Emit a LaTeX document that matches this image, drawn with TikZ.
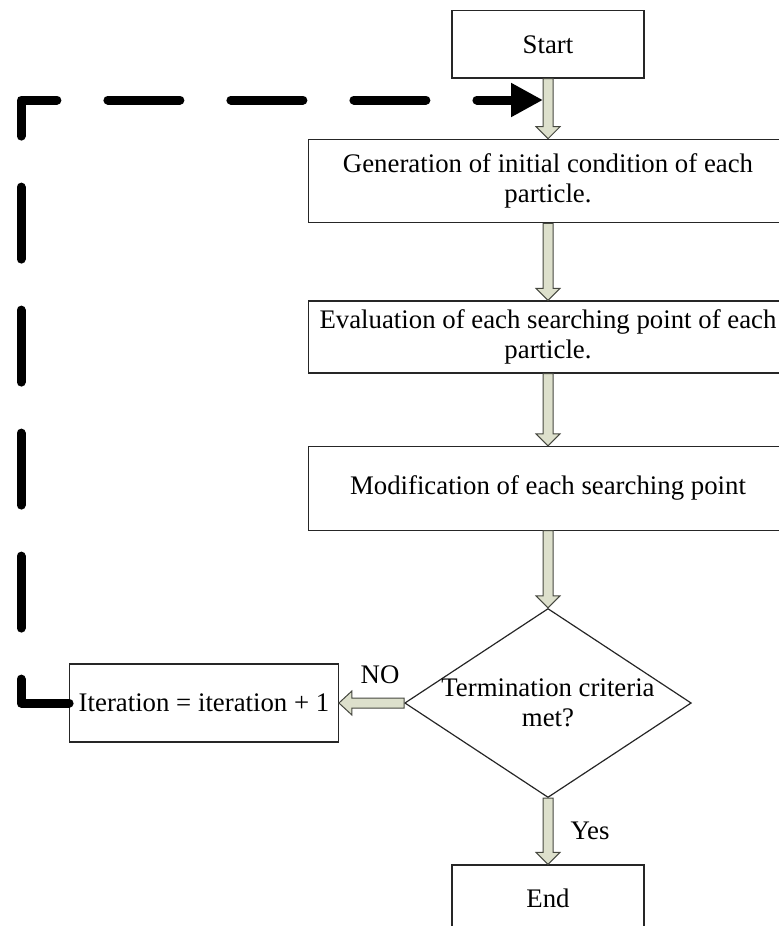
\documentclass[tikz,border=0pt]{standalone}
\usepackage{fontspec}
\setmainfont{Liberation Serif}
\usepackage{tikz}
\usetikzlibrary{calc,shapes.geometric,arrows.meta}
\definecolor{arrowfill}{RGB}{221,224,204}
\definecolor{arrowline}{RGB}{70,72,64}
\tikzset{
  stepbox/.style={draw=black!85,line width=0.6pt,rectangle,inner sep=0pt,align=center},
  decision/.style={draw=black!85,line width=0.6pt,diamond,inner sep=0pt},
  blockarrow/.style={draw=arrowline,line width=0.5pt,fill=arrowfill,line join=miter},
  loopline/.style={line width=4.5pt,line cap=round,line join=round,
    dash pattern=on 36pt off 25.5pt,-{Triangle[length=16pt,width=16pt]}}
}
\newcommand{\downblock}[2]{\draw[blockarrow] ($(#1)+(-5,0)$) -- ($(#2)+(-5,-12)$) -- ($(#2)+(-12,-12)$) -- (#2) -- ($(#2)+(12,-12)$) -- ($(#2)+(5,-12)$) -- ($(#1)+(5,0)$) -- cycle;}
\newcommand{\leftblock}[2]{\draw[blockarrow] ($(#1)+(0,-5)$) -- ($(#2)+(13,-5)$) -- ($(#2)+(13,-12)$) -- (#2) -- ($(#2)+(13,12)$) -- ($(#2)+(13,5)$) -- ($(#1)+(0,5)$) -- cycle;}

\begin{document}
\begin{tikzpicture}[x=0.5pt,y=-0.5pt,font=\fontsize{13.4}{14.8}\selectfont]
\pgfmathsetmacro{\cx}{548}
\useasboundingbox (0,0) rectangle (779,926);
\clip (0,0) rectangle (779,926);
\node[stepbox,minimum width=96pt,minimum height=33.7pt] (start) at (\cx,44.3) {Start};
\node[stepbox,minimum width=239.5pt,minimum height=41.7pt] (gen) at (\cx,181) {Generation of initial condition of each\\particle.};
\node[stepbox,minimum width=239.5pt,minimum height=36pt] (eval) at (\cx,337) {Evaluation of each searching point of each\\particle.};
\node[stepbox,minimum width=239.5pt,minimum height=41.8pt] (mod) at (\cx,488.3) {Modification of each searching point};
\node[decision,minimum width=143.3pt,minimum height=94.5pt] (term) at (\cx,703) {};
\node[align=center,inner sep=0pt] (termtext) at (term.center) {Termination criteria\\met?};
\node[stepbox,minimum width=134.3pt,minimum height=39pt] (iter) at (204,703) {Iteration = iteration + 1};
\node[stepbox,minimum width=96pt,minimum height=33.7pt] (end) at (\cx,898.7) {End};
\node (no) at (380,675) {NO};
\node (yes) at (590,831) {Yes};
\downblock{start.south}{gen.north}
\downblock{gen.south}{eval.north}
\downblock{eval.south}{mod.north}
\downblock{mod.south}{term.north}
\downblock{term.south}{end.north}
\leftblock{term.west}{iter.east}
\coordinate (corner) at (21,100);
\coordinate (loopend) at (543,100);
\draw[loopline] (iter.west) -| (corner) -- (loopend);
\end{tikzpicture}
\end{document}
